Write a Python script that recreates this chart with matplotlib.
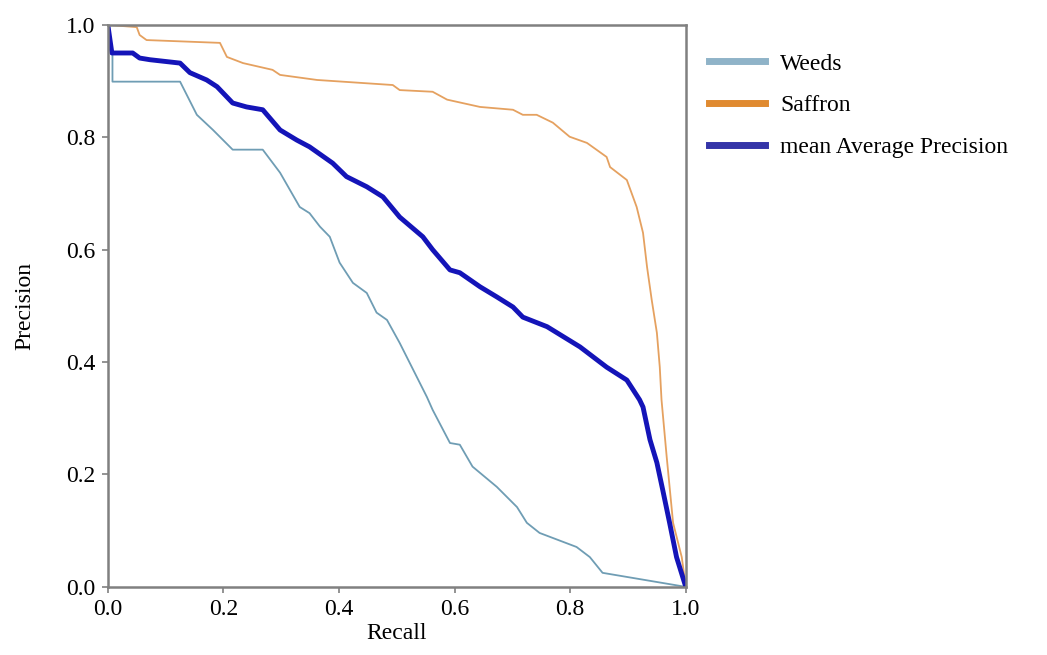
import matplotlib
matplotlib.use('Agg')
from matplotlib import pyplot as plt

# precision-recall curves
weeds_recall = [0.0, 0.008, 0.008, 0.125, 0.154, 0.182, 0.216, 0.268, 0.298, 0.332, 0.349,
                0.367, 0.384, 0.401, 0.424, 0.448, 0.465, 0.483, 0.505, 0.552, 0.562,
                0.592, 0.609, 0.631, 0.673, 0.708, 0.725, 0.747, 0.811, 0.834, 0.856, 1.0]
weeds_precision = [1.0, 0.95, 0.899, 0.899, 0.840, 0.813, 0.778, 0.778, 0.737, 0.676, 0.665,
                   0.641, 0.623, 0.577, 0.541, 0.523, 0.488, 0.475, 0.434, 0.338, 0.315,
                   0.256, 0.253, 0.214, 0.178, 0.142, 0.114, 0.096, 0.071, 0.053, 0.025, 0.0]

saffron_recall = [0.0, 0.050, 0.055, 0.067, 0.194, 0.206, 0.234, 0.285, 0.298, 0.362, 0.493,
                  0.505, 0.562, 0.587, 0.644, 0.701, 0.718, 0.742, 0.770, 0.799, 0.829,
                  0.863, 0.869, 0.898, 0.915, 0.926, 0.933, 0.941, 0.950, 0.955, 0.958,
                  0.967, 0.978, 0.993, 1.0]
saffron_precision = [1.0, 0.996, 0.982, 0.973, 0.968, 0.943, 0.932, 0.920, 0.911, 0.902, 0.893,
                     0.884, 0.881, 0.867, 0.854, 0.849, 0.840, 0.840, 0.826, 0.801, 0.790,
                     0.765, 0.747, 0.724, 0.676, 0.630, 0.569, 0.511, 0.452, 0.391, 0.333,
                     0.231, 0.114, 0.053, 0.0]

map_recall = [0.0, 0.007, 0.043, 0.055, 0.073, 0.125, 0.142, 0.171, 0.189, 0.216, 0.240,
              0.268, 0.298, 0.327, 0.349, 0.389, 0.413, 0.448, 0.476, 0.505, 0.545,
              0.562, 0.592, 0.609, 0.644, 0.673, 0.701, 0.718, 0.760, 0.817, 0.863,
              0.898, 0.920, 0.926, 0.938, 0.950, 0.960, 0.972, 0.984, 1.0]
map_precision = [1.0, 0.95, 0.95, 0.941, 0.938, 0.932, 0.915, 0.902, 0.890, 0.861, 0.854,
                 0.849, 0.813, 0.795, 0.783, 0.754, 0.730, 0.712, 0.694, 0.658, 0.623,
                 0.600, 0.564, 0.559, 0.534, 0.516, 0.498, 0.480, 0.463, 0.427, 0.391,
                 0.368, 0.333, 0.320, 0.262, 0.221, 0.173, 0.114, 0.053, 0.0]

ticks = [0.0, 0.2, 0.4, 0.6, 0.8, 1.0]

plt.rcParams['font.family'] = ['Liberation Serif', 'DejaVu Serif']

fig = plt.figure(figsize=(10.47, 6.55), dpi=100)
ax = fig.add_axes([0.103, 0.104, 0.552, 0.858])

ax.plot(weeds_recall, weeds_precision, color='#6f9db4', lw=1.3, label='Weeds')
ax.plot(saffron_recall, saffron_precision, color='#e5a160', lw=1.3, label='Saffron')
ax.plot(map_recall, map_precision, color='#1414b8', lw=3.5, label='mean Average Precision')

ax.set_xlim(0, 1)
ax.set_ylim(0, 1)
ax.set_xticks(ticks)
ax.set_yticks(ticks)
ax.set_xticklabels(['%.1f' % t for t in ticks])
ax.set_yticklabels(['%.1f' % t for t in ticks])
ax.tick_params(labelsize=17, length=4, width=1.2, color='#808080', pad=5)
for s in ax.spines.values():
    s.set_color('#808080')
    s.set_linewidth(1.8)

ax.set_xlabel('Recall', fontsize=17, labelpad=2)
ax.set_ylabel('Precision', fontsize=17, labelpad=22)

leg = ax.legend(loc='upper left', bbox_to_anchor=(1.003, 0.9875), frameon=False,
                fontsize=17, handlelength=2.37, handletextpad=0.65, labelspacing=0.85)
for h, c in zip(leg.get_lines(), ['#8fb3c8', '#e08a30', '#3434a8']):
    h.set_linewidth(5)
    h.set_color(c)

plt.savefig('out.png', dpi=100)
